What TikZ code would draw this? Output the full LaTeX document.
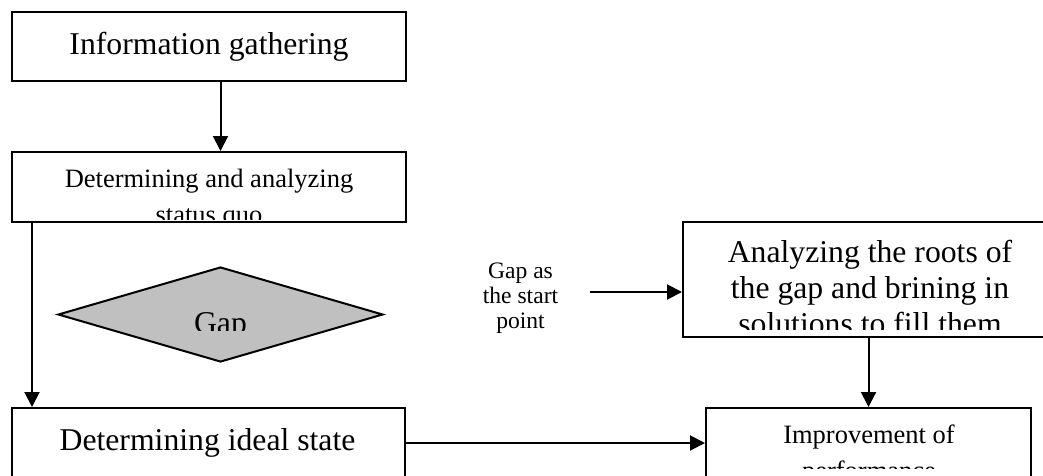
\documentclass[tikz,border=0pt]{standalone}
\usepackage{fontspec}
\setmainfont{Liberation Serif}
\usetikzlibrary{arrows.meta,shapes.geometric}
\definecolor{gapgray}{RGB}{192,192,192}
\begin{document}
\begin{tikzpicture}[x=1pt,y=-1pt,
  box/.style={draw,line width=2pt,inner sep=0pt},
  arr/.style={line width=2pt,-{Triangle[length=15pt,width=15pt]}},
  big/.style={font=\fontsize{31.7}{36}\selectfont,align=center,anchor=base,inner sep=0pt},
  mid/.style={font=\fontsize{26.5}{36}\selectfont,align=center,anchor=base,inner sep=0pt}]
\clip (0,0) rectangle (1043,475);
\coordinate (C1) at (209,46.5);
\coordinate (C2) at (209,187);
\coordinate (C3) at (220.5,314.5);
\coordinate (C4) at (866.5,279.5);
\coordinate (C5) at (208.5,454);
\coordinate (C6) at (868.5,454);
\coordinate (gapcut) at (0,330);
\coordinate (perfcut) at (0,468);
\coordinate (lblout) at (590,292);
% boxes
\node [box,minimum width=394pt,minimum height=69pt,font=\fontsize{31.7}{36}\selectfont] (info) at (C1) {Information gathering};
\node [box,minimum width=394pt,minimum height=70pt] (stat) at (C2) {};
\node [box,shape=diamond,fill=gapgray,minimum width=325pt,minimum height=95pt] (gap) at (C3) {};
\node [box,minimum width=367pt,minimum height=115pt] (roots) at (C4) {};
\node [box,minimum width=393pt,minimum height=92pt] (ideal) at (C5) {};
\node [box,minimum width=325pt,minimum height=92pt] (perf) at (C6) {};
% texts (base = last line)
\begin{scope}
\clip (stat.north west) rectangle ([yshift=4pt]stat.south east);
\node [mid] (stattxt) at (209,223) {Determining and analyzing\\status quo};
\end{scope}
\begin{scope}
\clip (gap.north west) rectangle (gap.east |- gapcut);
\node [big] (gaptxt) at (220.5,333.5) {Gap};
\end{scope}
\begin{scope}
\clip (roots.north west) rectangle ([yshift=9pt]roots.south east);
\node [big] (rootstxt) at (870,334) {Analyzing the roots of\\the gap and brining in\\solutions to fill them};
\end{scope}
\node [big] (idealtxt) at (207.5,450) {Determining ideal state};
\begin{scope}
\clip (perf.north west) rectangle (perf.east |- perfcut);
\node [mid] (perftxt) at (869,479) {Improvement of\\performance};
\end{scope}
\node [font=\fontsize{23.6}{25}\selectfont,align=center,anchor=base,inner sep=0pt] (lbl) at (520.5,328) {Gap as\\the start\\point};
% connectors
\draw [arr] (info.south -| gap.north) -- (stat.north -| gap.north);
\draw [arr] ([xshift=21pt]stat.south west) -- ([xshift=21pt]ideal.north west);
\draw [arr] ([yshift=11pt]ideal.east) -- ([yshift=11pt]ideal.east -| perf.west);
\draw [arr] (lblout) -- (lblout -| roots.west);
\draw [arr] (roots.south -| perf.north) -- (perf.north);
\end{tikzpicture}
\end{document}
